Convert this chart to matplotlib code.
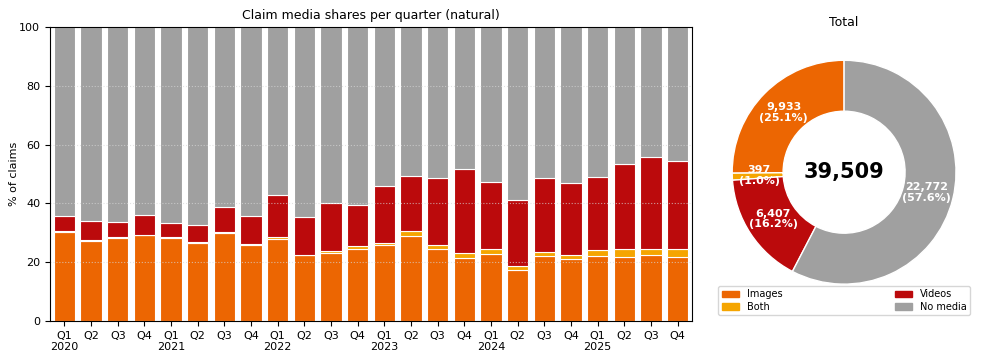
import numpy as np
import matplotlib
matplotlib.use("Agg")
import matplotlib.pyplot as plt

# quarterly shares (% of claims)
quarters = ["Q1", "Q2", "Q3", "Q4"] * 6
years = [2020, 2021, 2022, 2023, 2024, 2025]
images = [30.2, 27.1, 28.3, 29.1, 28.3, 26.6, 29.8, 26.0, 28.0, 22.3, 23.2, 24.4,
          25.8, 28.9, 24.5, 21.4, 22.9, 17.3, 22.0, 21.1, 22.0, 21.9, 22.4, 21.9]
both = [0.4, 0.3, 0.3, 0.3, 0.3, 0.3, 0.3, 0.3, 0.4, 0.3, 0.7, 1.2,
        0.7, 1.6, 1.3, 1.8, 1.6, 1.5, 1.6, 1.4, 2.3, 2.6, 2.2, 2.5]
videos = [5.0, 6.7, 5.1, 6.8, 4.8, 5.8, 8.6, 9.4, 14.4, 12.9, 16.1, 13.8,
          19.5, 18.7, 22.7, 28.4, 22.7, 22.2, 25.1, 24.4, 24.6, 28.8, 31.3, 30.1]

# totals
tot_labels = ["Images", "Both", "Videos", "No media"]
tot_values = [9933, 397, 6407, 22772]

colors = ["#ec6602", "#f5a500", "#bb0a0c", "#a0a0a0"]

images = np.array(images)
both = np.array(both)
videos = np.array(videos)
nomedia = 100 - images - both - videos

fig = plt.figure(figsize=(9.96, 3.61), dpi=100)
ax = fig.add_axes([0.05, 0.111, 0.645, 0.814])

x = np.arange(len(quarters))
kw = dict(width=0.8, edgecolor="white", linewidth=0.8)
ax.bar(x, images, color=colors[0], **kw)
ax.bar(x, both, bottom=images, color=colors[1], **kw)
ax.bar(x, videos, bottom=images + both, color=colors[2], **kw)
ax.bar(x, nomedia, bottom=images + both + videos, color=colors[3], **kw)

ticklabels = []
for i, q in enumerate(quarters):
    if q == "Q1":
        ticklabels.append(f"{q}\n{years[i // 4]}")
    else:
        ticklabels.append(q)
ax.set_xticks(x)
ax.set_xticklabels(ticklabels, fontsize=8)
ax.tick_params(axis="y", labelsize=8)
ax.set_xlim(-0.55, len(x) - 0.45)
ax.set_ylim(0, 100)
ax.set_ylabel("% of claims", fontsize=8, labelpad=0)
ax.set_title("Claim media shares per quarter (natural)", fontsize=9)
ax.yaxis.grid(True, linestyle=":", color="#d8d8d8", linewidth=0.8, alpha=0.7)
ax.set_axisbelow(False)
for sp in ax.spines.values():
    sp.set_zorder(5)

# donut
pax = fig.add_axes([0.735, 0.213, 0.225, 0.62])
total = sum(tot_values)
wedges, _ = pax.pie(tot_values, colors=colors, startangle=90, counterclock=True,
                    radius=1.0, wedgeprops=dict(width=0.455, edgecolor="white", linewidth=1))
r_lab = 0.76
for w, v in zip(wedges, tot_values):
    ang = np.deg2rad((w.theta1 + w.theta2) / 2)
    pax.text(r_lab * np.cos(ang), r_lab * np.sin(ang), f"{v:,}\n({v / total * 100:.1f}%)",
             ha="center", va="center", color="white", fontsize=8, fontweight="bold",
             linespacing=1.1)
pax.text(0, 0, f"{total:,}", ha="center", va="center", fontsize=15, fontweight="bold")
pax.set_xlim(-1, 1)
pax.set_ylim(-1, 1)
pax.set_aspect("equal")
pax.set_title("Total", fontsize=9, pad=25)

handles = [plt.Rectangle((0, 0), 1, 1, color=c) for c in colors]
fig.legend(handles, tot_labels, ncol=2, mode="expand", fontsize=7,
           bbox_to_anchor=(0.721, 0.130, 0.253, 0.075), loc="center",
           handlelength=1.8, handleheight=0.6, borderaxespad=0,
           labelspacing=0.3, borderpad=0.35)

fig.savefig("out.png", dpi=100)
